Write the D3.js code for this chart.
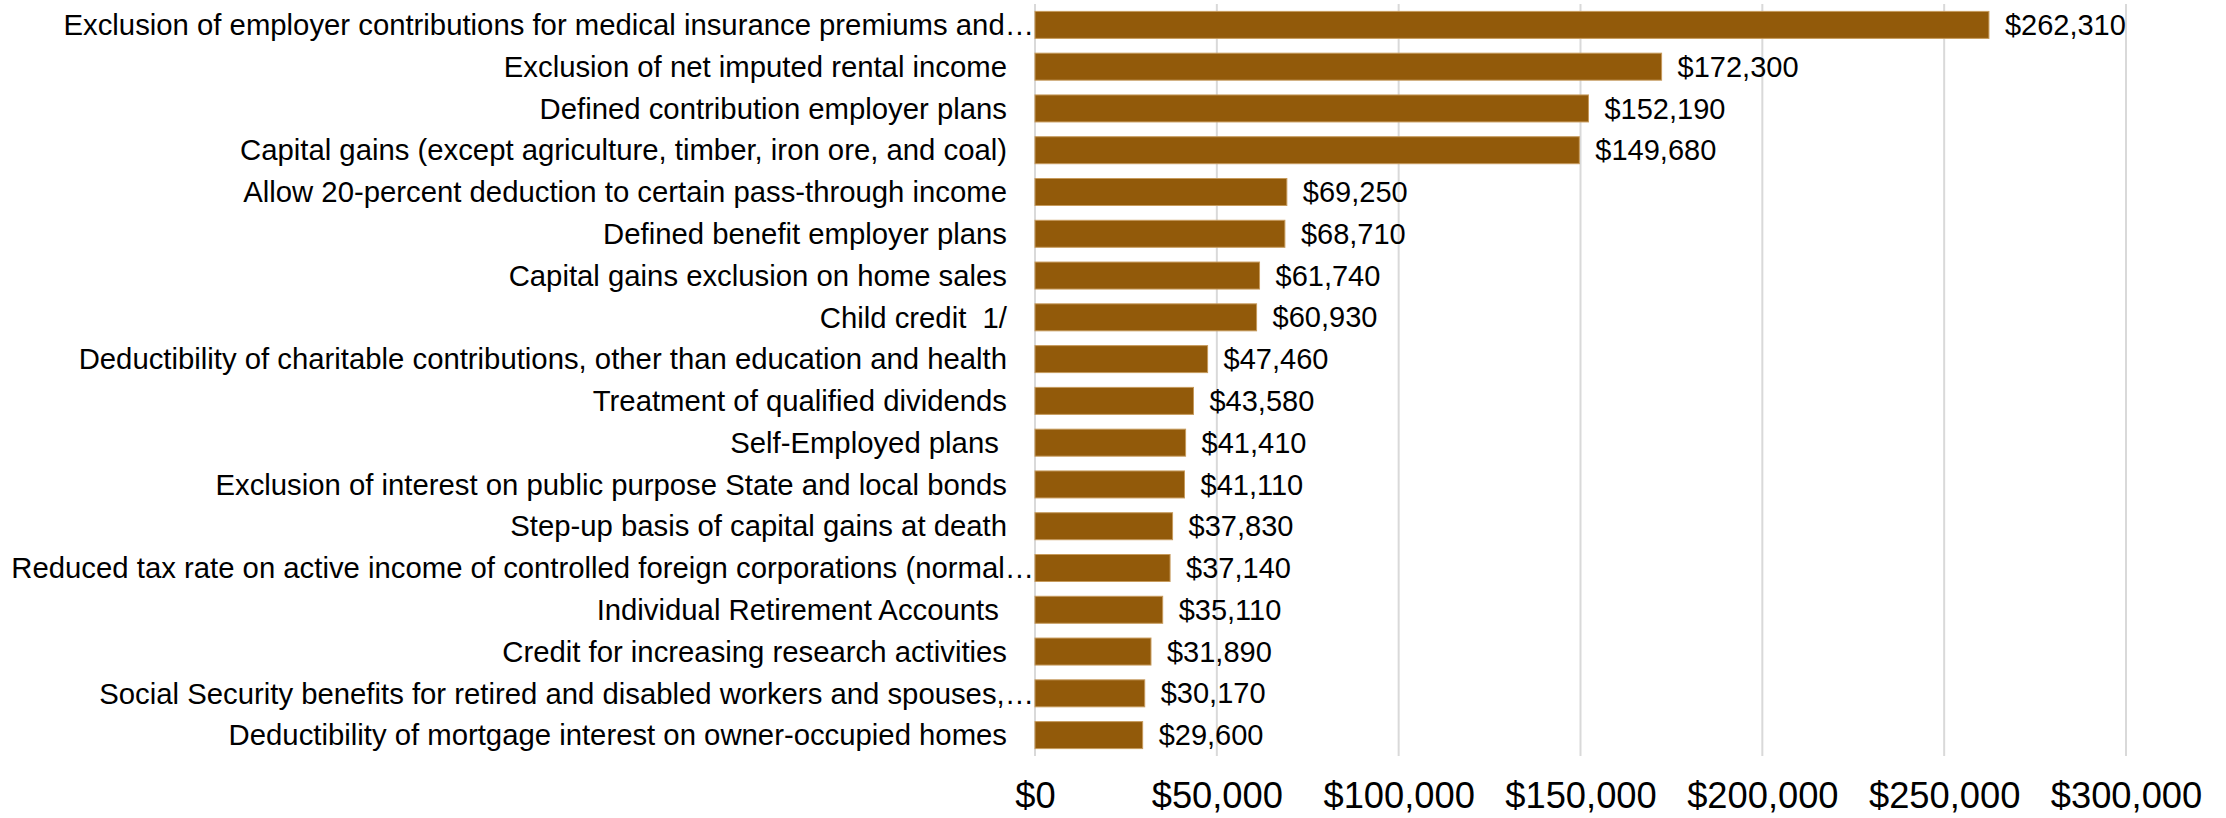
<!DOCTYPE html>
<html>
<head>
<meta charset="utf-8">
<script src="https://cdn.jsdelivr.net/npm/d3@7"></script>
<style>
  html, body { margin: 0; padding: 0; background: #fff; }
  #chart text { font-family: "Liberation Sans", Arial, sans-serif; fill: #000; white-space: pre; }
</style>
</head>
<body>
<div id="chart"></div>
<script>
// -- data --
var categories = [
  "Exclusion of employer contributions for medical insurance premiums and\u2026",
  "Exclusion of net imputed rental income",
  "Defined contribution employer plans",
  "Capital gains (except agriculture, timber, iron ore, and coal)",
  "Allow 20-percent deduction to certain pass-through income",
  "Defined benefit employer plans",
  "Capital gains exclusion on home sales",
  "Child credit  1/",
  "Deductibility of charitable contributions, other than education and health",
  "Treatment of qualified dividends",
  "Self-Employed plans ",
  "Exclusion of interest on public purpose State and local bonds",
  "Step-up basis of capital gains at death",
  "Reduced tax rate on active income of controlled foreign corporations (normal\u2026",
  "Individual Retirement Accounts ",
  "Credit for increasing research activities",
  "Social Security benefits for retired and disabled workers and spouses,\u2026",
  "Deductibility of mortgage interest on owner-occupied homes"
];
var values = [262310, 172300, 152190, 149680, 69250, 68710, 61740, 60930, 47460,
              43580, 41410, 41110, 37830, 37140, 35110, 31890, 30170, 29600];
var tick_values = [0, 50000, 100000, 150000, 200000, 250000, 300000];

var visualize = function() {
  var W = 2226, H = 818;
  var margin = { top: 4, right: 100, bottom: 62, left: 1035 };
  var width = W - margin.left - margin.right,
      height = H - margin.top - margin.bottom;

  var svg = d3.select("#chart")
    .append("svg")
    .attr("width", W)
    .attr("height", H)
    .append("g")
    .attr("transform", "translate(" + margin.left + "," + margin.top + ")");

  // == scales ==
  var x = d3.scaleLinear()
    .domain([0, 300000])
    .range([0, 1091]);

  var y = d3.scaleBand()
    .domain(categories)
    .range([0, height])
    .paddingInner(0.354)
    .paddingOuter(0.177);

  var fmt = d3.format("$,");

  // -- grid lines --
  svg.append("g")
    .selectAll("line")
    .data(tick_values)
    .enter()
    .append("line")
    .attr("x1", function (d) { return x(d); })
    .attr("x2", function (d) { return x(d); })
    .attr("y1", 0)
    .attr("y2", height)
    .attr("stroke", "#d9d9d9")
    .attr("stroke-width", 2);

  // -- x axis labels --
  var x_axis = d3.axisBottom(x)
    .tickValues(tick_values)
    .tickFormat(function (d) { return fmt(d); })
    .tickSize(0)
    .tickPadding(0);
  var gx = svg.append("g")
    .attr("transform", "translate(0," + height + ")")
    .call(x_axis);
  gx.select(".domain").remove();
  gx.selectAll("text")
    .attr("dy", null)
    .attr("y", 52)
    .style("font-size", "36.3px");

  // -- category labels --
  var y_axis = d3.axisLeft(y).tickSize(0).tickPadding(0);
  var gy = svg.append("g").call(y_axis);
  gy.select(".domain").remove();
  gy.selectAll("text")
    .attr("x", function (d) { return /\u2026$/.test(d) ? -1 : -28; })
    .attr("dy", "0.35em")
    .style("font-size", "29.3px");

  // == bars ==
  svg.append("g")
    .selectAll("rect")
    .data(values)
    .enter()
    .append("rect")
    .attr("x", 0)
    .attr("y", function (d, i) { return y(categories[i]); })
    .attr("width", function (d) { return x(d); })
    .attr("height", y.bandwidth())
    .attr("fill", "#925a0a")
    .attr("stroke", "#c69a5c")
    .attr("stroke-width", 1);

  // -- value labels --
  svg.append("g")
    .selectAll("text")
    .data(values)
    .enter()
    .append("text")
    .attr("x", function (d) { return x(d) + 16; })
    .attr("y", function (d, i) { return y(categories[i]) + y.bandwidth() / 2; })
    .attr("dy", "0.35em")
    .style("font-size", "29px")
    .text(function (d) { return fmt(d); });
};

visualize();
</script>
</body>
</html>
